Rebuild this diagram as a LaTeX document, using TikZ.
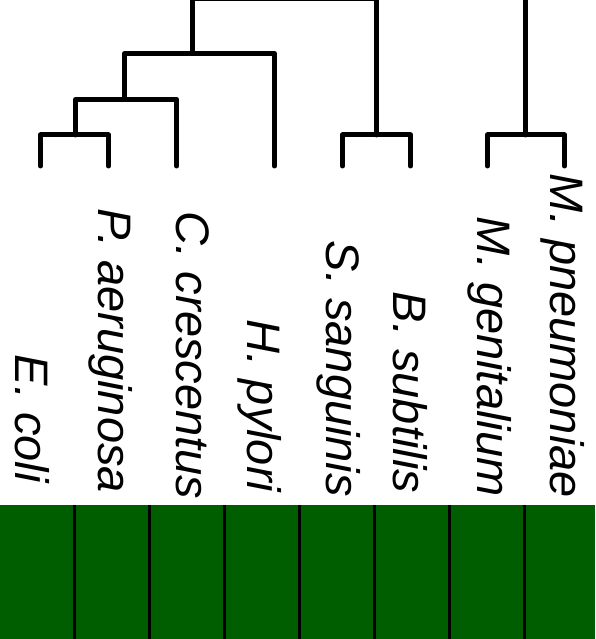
\documentclass[tikz,border=0pt]{standalone}
\usepackage{fontspec}
\setmainfont{Liberation Sans}
\definecolor{barGreen}{RGB}{0,94,0}
\tikzset{
  branch/.style={line width=5pt, line cap=round, line join=round, black},
  lbl/.style={rotate=-90, inner sep=0pt, anchor=base west,
              font=\fontsize{47}{50}\selectfont\itshape},
  divider/.style={line width=3pt, black}
}
\begin{document}
\begin{tikzpicture}[x=1pt, y=-1pt]
\useasboundingbox (0,0) rectangle (595,639);
\clip (0,0) rectangle (595,639);
% leaves
\coordinate (l1) at (40.5,166);
\coordinate (l2) at (108.5,166);
\coordinate (l3) at (176.8,166);
\coordinate (l4) at (274.5,166);
\coordinate (l5) at (342.5,166);
\coordinate (l6) at (410.5,166);
\coordinate (l7) at (487.5,166);
\coordinate (l8) at (564.5,166);
% joints
\coordinate (j12) at (75.5,135);
\coordinate (j123) at (124.5,99.5);
\coordinate (j1234) at (192.5,53.5);
\coordinate (root) at (290,-1.8);
\coordinate (j56) at (376.5,135);
\coordinate (j78) at (525.5,135);
\coordinate (top78) at (525.5,-20);
% dendrogram
\draw[branch] (l1) |- (j12) -| (l2);
\draw[branch] (j12) |- (j123) -| (l3);
\draw[branch] (j123) |- (j1234) -| (l4);
\draw[branch] (j1234) |- (root) -| (j56);
\draw[branch] (l5) |- (j56) -| (l6);
\draw[branch] (l7) |- (j78) -| (l8);
\draw[branch] (j78) -- (top78);
% labels
\node[lbl] (lab1) at (15.5,354.7) {E. coli};
\node[lbl] (lab2) at (98.5,208.7) {P. aeruginosa};
\node[lbl] (lab3) at (176,211.7) {C. crescentus};
\node[lbl] (lab4) at (247.5,319.7) {H. pylori};
\node[lbl] (lab5) at (326,240.7) {S. sanguinis};
\node[lbl] (lab6) at (393.5,291.7) {B. subtilis};
\node[lbl] (lab7) at (477.5,216.7) {M. genitalium};
\node[lbl] (lab8) at (550.5,173.7) {M. pneumoniae};
% colour bar
\fill[barGreen] (0,505) rectangle (595,639);
\foreach \xx in {74,149,224,299,374,449,524}
  \draw[divider] (\xx,505) -- (\xx,640);
\end{tikzpicture}
\end{document}
